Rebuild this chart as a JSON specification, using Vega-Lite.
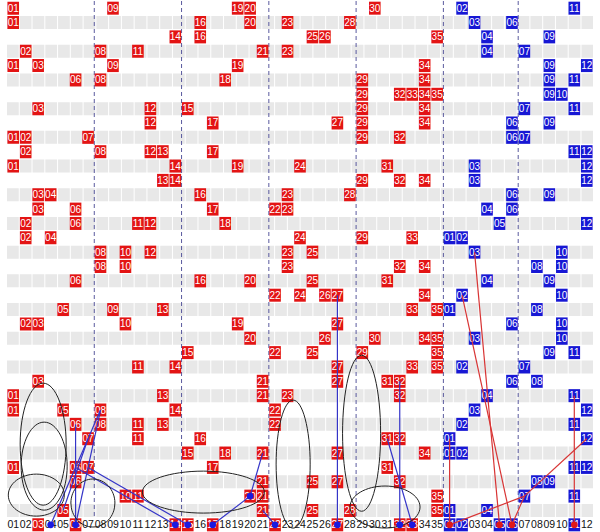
{
"$schema":"https://vega.github.io/schema/vega-lite/v6.json",
"width":600,"height":532,
"autosize":{"type":"fit","contains":"padding"},
"padding":0,
"background":"white",
"config":{"view":{"stroke":null}},
"datasets":{
"gray":[{"r":2},{"r":4},{"r":6},{"r":8},{"r":10},{"r":12},{"r":14},{"r":16},{"r":18},{"r":20},{"r":22},{"r":24},{"r":26},{"r":28},{"r":30},{"r":32},{"r":34},{"r":36}],
"seps":[{"b":7.5},{"b":14.5},{"b":21.5},{"b":28.5},{"b":35.5},{"b":41.5}],
"balls":[
{"r":1,"c":1,"t":"01","k":"R"},{"r":1,"c":9,"t":"09","k":"R"},{"r":1,"c":19,"t":"19","k":"R"},{"r":1,"c":20,"t":"20","k":"R"},{"r":1,"c":30,"t":"30","k":"R"},{"r":1,"c":37,"t":"02","k":"B"},{"r":1,"c":46,"t":"11","k":"B"},
{"r":2,"c":1,"t":"01","k":"R"},{"r":2,"c":16,"t":"16","k":"R"},{"r":2,"c":20,"t":"20","k":"R"},{"r":2,"c":23,"t":"23","k":"R"},{"r":2,"c":28,"t":"28","k":"R"},{"r":2,"c":38,"t":"03","k":"B"},{"r":2,"c":41,"t":"06","k":"B"},
{"r":3,"c":14,"t":"14","k":"R"},{"r":3,"c":16,"t":"16","k":"R"},{"r":3,"c":25,"t":"25","k":"R"},{"r":3,"c":26,"t":"26","k":"R"},{"r":3,"c":35,"t":"35","k":"R"},{"r":3,"c":39,"t":"04","k":"B"},{"r":3,"c":44,"t":"09","k":"B"},
{"r":4,"c":2,"t":"02","k":"R"},{"r":4,"c":8,"t":"08","k":"R"},{"r":4,"c":11,"t":"11","k":"R"},{"r":4,"c":21,"t":"21","k":"R"},{"r":4,"c":23,"t":"23","k":"R"},{"r":4,"c":39,"t":"04","k":"B"},{"r":4,"c":42,"t":"07","k":"B"},
{"r":5,"c":1,"t":"01","k":"R"},{"r":5,"c":3,"t":"03","k":"R"},{"r":5,"c":9,"t":"09","k":"R"},{"r":5,"c":19,"t":"19","k":"R"},{"r":5,"c":34,"t":"34","k":"R"},{"r":5,"c":44,"t":"09","k":"B"},{"r":5,"c":47,"t":"12","k":"B"},
{"r":6,"c":6,"t":"06","k":"R"},{"r":6,"c":8,"t":"08","k":"R"},{"r":6,"c":18,"t":"18","k":"R"},{"r":6,"c":29,"t":"29","k":"R"},{"r":6,"c":34,"t":"34","k":"R"},{"r":6,"c":44,"t":"09","k":"B"},{"r":6,"c":46,"t":"11","k":"B"},
{"r":7,"c":29,"t":"29","k":"R"},{"r":7,"c":32,"t":"32","k":"R"},{"r":7,"c":33,"t":"33","k":"R"},{"r":7,"c":34,"t":"34","k":"R"},{"r":7,"c":35,"t":"35","k":"R"},{"r":7,"c":44,"t":"09","k":"B"},{"r":7,"c":45,"t":"10","k":"B"},
{"r":8,"c":3,"t":"03","k":"R"},{"r":8,"c":12,"t":"12","k":"R"},{"r":8,"c":15,"t":"15","k":"R"},{"r":8,"c":29,"t":"29","k":"R"},{"r":8,"c":34,"t":"34","k":"R"},{"r":8,"c":42,"t":"07","k":"B"},{"r":8,"c":46,"t":"11","k":"B"},
{"r":9,"c":12,"t":"12","k":"R"},{"r":9,"c":17,"t":"17","k":"R"},{"r":9,"c":27,"t":"27","k":"R"},{"r":9,"c":29,"t":"29","k":"R"},{"r":9,"c":34,"t":"34","k":"R"},{"r":9,"c":41,"t":"06","k":"B"},{"r":9,"c":44,"t":"09","k":"B"},
{"r":10,"c":1,"t":"01","k":"R"},{"r":10,"c":2,"t":"02","k":"R"},{"r":10,"c":7,"t":"07","k":"R"},{"r":10,"c":29,"t":"29","k":"R"},{"r":10,"c":32,"t":"32","k":"R"},{"r":10,"c":41,"t":"06","k":"B"},{"r":10,"c":42,"t":"07","k":"B"},
{"r":11,"c":2,"t":"02","k":"R"},{"r":11,"c":8,"t":"08","k":"R"},{"r":11,"c":12,"t":"12","k":"R"},{"r":11,"c":13,"t":"13","k":"R"},{"r":11,"c":17,"t":"17","k":"R"},{"r":11,"c":46,"t":"11","k":"B"},{"r":11,"c":47,"t":"12","k":"B"},
{"r":12,"c":1,"t":"01","k":"R"},{"r":12,"c":14,"t":"14","k":"R"},{"r":12,"c":19,"t":"19","k":"R"},{"r":12,"c":24,"t":"24","k":"R"},{"r":12,"c":31,"t":"31","k":"R"},{"r":12,"c":38,"t":"03","k":"B"},{"r":12,"c":47,"t":"12","k":"B"},
{"r":13,"c":13,"t":"13","k":"R"},{"r":13,"c":14,"t":"14","k":"R"},{"r":13,"c":29,"t":"29","k":"R"},{"r":13,"c":32,"t":"32","k":"R"},{"r":13,"c":34,"t":"34","k":"R"},{"r":13,"c":38,"t":"03","k":"B"},{"r":13,"c":47,"t":"12","k":"B"},
{"r":14,"c":3,"t":"03","k":"R"},{"r":14,"c":4,"t":"04","k":"R"},{"r":14,"c":16,"t":"16","k":"R"},{"r":14,"c":23,"t":"23","k":"R"},{"r":14,"c":28,"t":"28","k":"R"},{"r":14,"c":41,"t":"06","k":"B"},{"r":14,"c":44,"t":"09","k":"B"},
{"r":15,"c":3,"t":"03","k":"R"},{"r":15,"c":6,"t":"06","k":"R"},{"r":15,"c":17,"t":"17","k":"R"},{"r":15,"c":22,"t":"22","k":"R"},{"r":15,"c":23,"t":"23","k":"R"},{"r":15,"c":39,"t":"04","k":"B"},{"r":15,"c":41,"t":"06","k":"B"},
{"r":16,"c":2,"t":"02","k":"R"},{"r":16,"c":6,"t":"06","k":"R"},{"r":16,"c":11,"t":"11","k":"R"},{"r":16,"c":12,"t":"12","k":"R"},{"r":16,"c":18,"t":"18","k":"R"},{"r":16,"c":40,"t":"05","k":"B"},{"r":16,"c":47,"t":"12","k":"B"},
{"r":17,"c":2,"t":"02","k":"R"},{"r":17,"c":4,"t":"04","k":"R"},{"r":17,"c":24,"t":"24","k":"R"},{"r":17,"c":29,"t":"29","k":"R"},{"r":17,"c":33,"t":"33","k":"R"},{"r":17,"c":36,"t":"01","k":"B"},{"r":17,"c":37,"t":"02","k":"B"},
{"r":18,"c":8,"t":"08","k":"R"},{"r":18,"c":10,"t":"10","k":"R"},{"r":18,"c":12,"t":"12","k":"R"},{"r":18,"c":23,"t":"23","k":"R"},{"r":18,"c":25,"t":"25","k":"R"},{"r":18,"c":38,"t":"03","k":"B"},{"r":18,"c":45,"t":"10","k":"B"},
{"r":19,"c":8,"t":"08","k":"R"},{"r":19,"c":10,"t":"10","k":"R"},{"r":19,"c":23,"t":"23","k":"R"},{"r":19,"c":32,"t":"32","k":"R"},{"r":19,"c":34,"t":"34","k":"R"},{"r":19,"c":43,"t":"08","k":"B"},{"r":19,"c":45,"t":"10","k":"B"},
{"r":20,"c":6,"t":"06","k":"R"},{"r":20,"c":16,"t":"16","k":"R"},{"r":20,"c":20,"t":"20","k":"R"},{"r":20,"c":25,"t":"25","k":"R"},{"r":20,"c":31,"t":"31","k":"R"},{"r":20,"c":39,"t":"04","k":"B"},{"r":20,"c":44,"t":"09","k":"B"},
{"r":21,"c":22,"t":"22","k":"R"},{"r":21,"c":24,"t":"24","k":"R"},{"r":21,"c":26,"t":"26","k":"R"},{"r":21,"c":27,"t":"27","k":"R"},{"r":21,"c":34,"t":"34","k":"R"},{"r":21,"c":37,"t":"02","k":"B"},{"r":21,"c":45,"t":"10","k":"B"},
{"r":22,"c":5,"t":"05","k":"R"},{"r":22,"c":9,"t":"09","k":"R"},{"r":22,"c":13,"t":"13","k":"R"},{"r":22,"c":33,"t":"33","k":"R"},{"r":22,"c":35,"t":"35","k":"R"},{"r":22,"c":36,"t":"01","k":"B"},{"r":22,"c":43,"t":"08","k":"B"},
{"r":23,"c":2,"t":"02","k":"R"},{"r":23,"c":3,"t":"03","k":"R"},{"r":23,"c":10,"t":"10","k":"R"},{"r":23,"c":19,"t":"19","k":"R"},{"r":23,"c":27,"t":"27","k":"R"},{"r":23,"c":41,"t":"06","k":"B"},{"r":23,"c":45,"t":"10","k":"B"},
{"r":24,"c":20,"t":"20","k":"R"},{"r":24,"c":26,"t":"26","k":"R"},{"r":24,"c":30,"t":"30","k":"R"},{"r":24,"c":34,"t":"34","k":"R"},{"r":24,"c":35,"t":"35","k":"R"},{"r":24,"c":38,"t":"03","k":"B"},{"r":24,"c":45,"t":"10","k":"B"},
{"r":25,"c":15,"t":"15","k":"R"},{"r":25,"c":22,"t":"22","k":"R"},{"r":25,"c":25,"t":"25","k":"R"},{"r":25,"c":29,"t":"29","k":"R"},{"r":25,"c":35,"t":"35","k":"R"},{"r":25,"c":44,"t":"09","k":"B"},{"r":25,"c":46,"t":"11","k":"B"},
{"r":26,"c":11,"t":"11","k":"R"},{"r":26,"c":14,"t":"14","k":"R"},{"r":26,"c":27,"t":"27","k":"R"},{"r":26,"c":33,"t":"33","k":"R"},{"r":26,"c":35,"t":"35","k":"R"},{"r":26,"c":37,"t":"02","k":"B"},{"r":26,"c":42,"t":"07","k":"B"},
{"r":27,"c":3,"t":"03","k":"R"},{"r":27,"c":21,"t":"21","k":"R"},{"r":27,"c":27,"t":"27","k":"R"},{"r":27,"c":31,"t":"31","k":"R"},{"r":27,"c":32,"t":"32","k":"R"},{"r":27,"c":41,"t":"06","k":"B"},{"r":27,"c":43,"t":"08","k":"B"},
{"r":28,"c":1,"t":"01","k":"R"},{"r":28,"c":13,"t":"13","k":"R"},{"r":28,"c":21,"t":"21","k":"R"},{"r":28,"c":23,"t":"23","k":"R"},{"r":28,"c":32,"t":"32","k":"R"},{"r":28,"c":39,"t":"04","k":"B"},{"r":28,"c":46,"t":"11","k":"B"},
{"r":29,"c":1,"t":"01","k":"R"},{"r":29,"c":5,"t":"05","k":"R"},{"r":29,"c":8,"t":"08","k":"R"},{"r":29,"c":14,"t":"14","k":"R"},{"r":29,"c":22,"t":"22","k":"R"},{"r":29,"c":38,"t":"03","k":"B"},{"r":29,"c":47,"t":"12","k":"B"},
{"r":30,"c":6,"t":"06","k":"R"},{"r":30,"c":8,"t":"08","k":"R"},{"r":30,"c":11,"t":"11","k":"R"},{"r":30,"c":13,"t":"13","k":"R"},{"r":30,"c":22,"t":"22","k":"R"},{"r":30,"c":37,"t":"02","k":"B"},{"r":30,"c":46,"t":"11","k":"B"},
{"r":31,"c":7,"t":"07","k":"R"},{"r":31,"c":11,"t":"11","k":"R"},{"r":31,"c":16,"t":"16","k":"R"},{"r":31,"c":31,"t":"31","k":"R"},{"r":31,"c":32,"t":"32","k":"R"},{"r":31,"c":36,"t":"01","k":"B"},{"r":31,"c":47,"t":"12","k":"B"},
{"r":32,"c":15,"t":"15","k":"R"},{"r":32,"c":18,"t":"18","k":"R"},{"r":32,"c":21,"t":"21","k":"R"},{"r":32,"c":27,"t":"27","k":"R"},{"r":32,"c":34,"t":"34","k":"R"},{"r":32,"c":36,"t":"01","k":"B"},{"r":32,"c":37,"t":"02","k":"B"},
{"r":33,"c":1,"t":"01","k":"R"},{"r":33,"c":6,"t":"06","k":"R"},{"r":33,"c":7,"t":"07","k":"R"},{"r":33,"c":17,"t":"17","k":"R"},{"r":33,"c":31,"t":"31","k":"R"},{"r":33,"c":46,"t":"11","k":"B"},{"r":33,"c":47,"t":"12","k":"B"},
{"r":34,"c":6,"t":"06","k":"R"},{"r":34,"c":21,"t":"21","k":"R"},{"r":34,"c":25,"t":"25","k":"R"},{"r":34,"c":27,"t":"27","k":"R"},{"r":34,"c":32,"t":"32","k":"R"},{"r":34,"c":43,"t":"08","k":"B"},{"r":34,"c":44,"t":"09","k":"B"},
{"r":35,"c":10,"t":"10","k":"R"},{"r":35,"c":11,"t":"11","k":"R"},{"r":35,"c":20,"t":"20","k":"R"},{"r":35,"c":21,"t":"21","k":"R"},{"r":35,"c":35,"t":"35","k":"R"},{"r":35,"c":42,"t":"07","k":"B"},{"r":35,"c":46,"t":"11","k":"B"},
{"r":36,"c":5,"t":"05","k":"R"},{"r":36,"c":21,"t":"21","k":"R"},{"r":36,"c":25,"t":"25","k":"R"},{"r":36,"c":28,"t":"28","k":"R"},{"r":36,"c":35,"t":"35","k":"R"},{"r":36,"c":36,"t":"01","k":"B"},{"r":36,"c":39,"t":"04","k":"B"}
],
"labels":[
{"r":37,"c":1,"t":"01","k":"N"},{"r":37,"c":2,"t":"02","k":"N"},{"r":37,"c":3,"t":"03","k":"R"},{"r":37,"c":4,"t":"04","k":"N"},{"r":37,"c":5,"t":"05","k":"N"},{"r":37,"c":6,"t":"06","k":"R"},{"r":37,"c":7,"t":"07","k":"N"},{"r":37,"c":8,"t":"08","k":"N"},{"r":37,"c":9,"t":"09","k":"N"},{"r":37,"c":10,"t":"10","k":"N"},{"r":37,"c":11,"t":"11","k":"N"},{"r":37,"c":12,"t":"12","k":"N"},{"r":37,"c":13,"t":"13","k":"N"},{"r":37,"c":14,"t":"14","k":"R"},{"r":37,"c":15,"t":"15","k":"R"},{"r":37,"c":16,"t":"16","k":"N"},{"r":37,"c":17,"t":"17","k":"R"},{"r":37,"c":18,"t":"18","k":"N"},{"r":37,"c":19,"t":"19","k":"N"},{"r":37,"c":20,"t":"20","k":"N"},{"r":37,"c":21,"t":"21","k":"N"},{"r":37,"c":22,"t":"22","k":"R"},{"r":37,"c":23,"t":"23","k":"N"},{"r":37,"c":24,"t":"24","k":"N"},{"r":37,"c":25,"t":"25","k":"N"},{"r":37,"c":26,"t":"26","k":"N"},{"r":37,"c":27,"t":"27","k":"R"},{"r":37,"c":28,"t":"28","k":"N"},{"r":37,"c":29,"t":"29","k":"N"},{"r":37,"c":30,"t":"30","k":"N"},{"r":37,"c":31,"t":"31","k":"N"},{"r":37,"c":32,"t":"32","k":"R"},{"r":37,"c":33,"t":"33","k":"R"},{"r":37,"c":34,"t":"34","k":"N"},{"r":37,"c":35,"t":"35","k":"N"},
{"r":37,"c":36,"t":"01","k":"B"},{"r":37,"c":37,"t":"02","k":"B"},{"r":37,"c":38,"t":"03","k":"N"},{"r":37,"c":39,"t":"04","k":"N"},{"r":37,"c":40,"t":"05","k":"B"},{"r":37,"c":41,"t":"06","k":"B"},{"r":37,"c":42,"t":"07","k":"N"},{"r":37,"c":43,"t":"08","k":"N"},{"r":37,"c":44,"t":"09","k":"N"},{"r":37,"c":45,"t":"10","k":"N"},{"r":37,"c":46,"t":"11","k":"B"},{"r":37,"c":47,"t":"12","k":"N"}
],
"lines":[
{"c1":27,"r1":21,"c2":27,"r2":37,"k":"B"},
{"c1":8,"r1":29,"c2":4,"r2":37,"k":"B"},
{"c1":8,"r1":29,"c2":6,"r2":37,"k":"B"},
{"c1":6,"r1":30,"c2":6,"r2":37,"k":"B"},
{"c1":6,"r1":33,"c2":14,"r2":37,"k":"B"},
{"c1":7,"r1":33,"c2":15,"r2":37,"k":"B"},
{"c1":7,"r1":31,"c2":5,"r2":36,"k":"B"},
{"c1":21,"r1":32,"c2":20,"r2":35,"k":"B"},
{"c1":20,"r1":35,"c2":17,"r2":37,"k":"B"},
{"c1":21,"r1":36,"c2":22,"r2":37,"k":"B"},
{"c1":31,"r1":31,"c2":33,"r2":37,"k":"B"},
{"c1":32,"r1":27,"c2":32,"r2":37,"k":"B"},
{"c1":38,"r1":18,"c2":40,"r2":37,"k":"R"},
{"c1":37,"r1":21,"c2":41,"r2":37,"k":"R"},
{"c1":36,"r1":31,"c2":36,"r2":37,"k":"R"},
{"c1":46,"r1":28,"c2":46,"r2":37,"k":"R"},
{"c1":47,"r1":31,"c2":42,"r2":35,"k":"R"},
{"c1":42,"r1":35,"c2":36,"r2":37,"k":"R"},
{"c1":41,"r1":37,"c2":42,"r2":35,"k":"R"}
],
"dots":[
{"c":4,"r":37,"k":"B"},{"c":6,"r":37,"k":"B"},{"c":14,"r":37,"k":"B"},{"c":15,"r":37,"k":"B"},{"c":17,"r":37,"k":"B"},{"c":20,"r":35,"k":"B"},{"c":22,"r":37,"k":"B"},{"c":27,"r":37,"k":"B"},{"c":32,"r":37,"k":"B"},{"c":33,"r":37,"k":"B"},
{"c":36,"r":37,"k":"R"},{"c":40,"r":37,"k":"R"},{"c":41,"r":37,"k":"R"},{"c":46,"r":37,"k":"R"}
]
},
"layer":[
{"data":{"name":"gray"},
 "mark":{"type":"rule","strokeWidth":13,"color":"#e8e8e8","strokeDash":[11.766,1],"strokeCap":"butt"},
 "encoding":{
  "x":{"datum":0.5,"type":"quantitative","scale":{"domain":[0.5,47.5],"nice":false,"zero":false},"axis":null},
  "x2":{"datum":47.5},
  "y":{"field":"r","type":"quantitative","scale":{"domain":[0.5,37.5],"nice":false,"zero":false,"reverse":true},"axis":null}}},
{"data":{"name":"seps"},
 "mark":{"type":"rule","strokeWidth":1,"color":"#5a5a9e","strokeDash":[4,3]},
 "encoding":{
  "x":{"field":"b","type":"quantitative","scale":{"domain":[0.5,47.5],"nice":false,"zero":false},"axis":null},
  "y":{"datum":0.5,"type":"quantitative","scale":{"domain":[0.5,37.5],"nice":false,"zero":false,"reverse":true},"axis":null},
  "y2":{"datum":36.5}}},
{"data":{"name":"balls"},
 "mark":{"type":"tick","orient":"horizontal","size":11.6,"thickness":13,"opacity":1},
 "encoding":{
  "x":{"field":"c","type":"quantitative","scale":{"domain":[0.5,47.5],"nice":false,"zero":false},"axis":null},
  "y":{"field":"r","type":"quantitative","scale":{"domain":[0.5,37.5],"nice":false,"zero":false,"reverse":true},"axis":null},
  "color":{"field":"k","type":"nominal","scale":{"domain":["R","B","N"],"range":["#e31414","#1717d4","#ffffff"]},"legend":null}}},
{"data":{"name":"balls"},
 "mark":{"type":"text","color":"white","font":"Liberation Sans","fontSize":10,"baseline":"middle","align":"center","dy":0.5},
 "encoding":{
  "x":{"field":"c","type":"quantitative","scale":{"domain":[0.5,47.5],"nice":false,"zero":false},"axis":null},
  "y":{"field":"r","type":"quantitative","scale":{"domain":[0.5,37.5],"nice":false,"zero":false,"reverse":true},"axis":null},
  "text":{"field":"t"}}},
{"data":{"name":"labels"},
 "transform":[{"filter":"datum.k !== 'N'"}],
 "mark":{"type":"tick","orient":"horizontal","size":11.6,"thickness":13,"opacity":1},
 "encoding":{
  "x":{"field":"c","type":"quantitative","scale":{"domain":[0.5,47.5],"nice":false,"zero":false},"axis":null},
  "y":{"field":"r","type":"quantitative","scale":{"domain":[0.5,37.5],"nice":false,"zero":false,"reverse":true},"axis":null},
  "color":{"field":"k","type":"nominal","scale":{"domain":["R","B","N"],"range":["#e31414","#1717d4","#ffffff"]},"legend":null}}},
{"data":{"name":"labels"},
 "mark":{"type":"text","font":"Liberation Sans","fontSize":10.5,"baseline":"middle","align":"center","dy":0.5},
 "encoding":{
  "x":{"field":"c","type":"quantitative","scale":{"domain":[0.5,47.5],"nice":false,"zero":false},"axis":null},
  "y":{"field":"r","type":"quantitative","scale":{"domain":[0.5,37.5],"nice":false,"zero":false,"reverse":true},"axis":null},
  "text":{"field":"t"},
  "color":{"condition":{"test":"datum.k === 'N'","value":"#111111"},"value":"#ffffff"}}},
{"data":{"name":"lines"},
 "mark":{"type":"rule","strokeWidth":1.2},
 "encoding":{
  "x":{"field":"c1","type":"quantitative","scale":{"domain":[0.5,47.5],"nice":false,"zero":false},"axis":null},
  "y":{"field":"r1","type":"quantitative","scale":{"domain":[0.5,37.5],"nice":false,"zero":false,"reverse":true},"axis":null},
  "x2":{"field":"c2"},"y2":{"field":"r2"},
  "color":{"condition":{"test":"datum.k === 'R'","value":"#d83434"},"value":"#3434c8"}}},
{"data":{"values":[{"c":3.4,"r":31.38}]},
 "mark":{"type":"point","filled":false,"stroke":"#222222","strokeWidth":1,"opacity":1,"size":14884,"shape":"M0.377,0C0.377,0.552,0.208,1,0,1C-0.208,1,-0.377,0.552,-0.377,0C-0.377,-0.552,-0.208,-1,0,-1C0.208,-1,0.377,-0.552,0.377,0Z"},
 "encoding":{"x":{"field":"c","type":"quantitative","scale":{"domain":[0.5,47.5],"nice":false,"zero":false},"axis":null},"y":{"field":"r","type":"quantitative","scale":{"domain":[0.5,37.5],"nice":false,"zero":false,"reverse":true},"axis":null}}},
{"data":{"values":[{"c":3.48,"r":32.91}]},
 "mark":{"type":"point","filled":false,"stroke":"#222222","strokeWidth":1,"opacity":1,"size":7744,"shape":"M0.523,0C0.523,0.552,0.289,1,0,1C-0.289,1,-0.523,0.552,-0.523,0C-0.523,-0.552,-0.289,-1,0,-1C0.289,-1,0.523,-0.552,0.523,0Z"},
 "encoding":{"x":{"field":"c","type":"quantitative","scale":{"domain":[0.5,47.5],"nice":false,"zero":false},"axis":null},"y":{"field":"r","type":"quantitative","scale":{"domain":[0.5,37.5],"nice":false,"zero":false,"reverse":true},"axis":null}}},
{"data":{"values":[{"c":2.85,"r":34.93}]},
 "mark":{"type":"point","filled":false,"stroke":"#222222","strokeWidth":1,"opacity":1,"size":3136,"shape":"M1,0C1,0.414,0.552,0.75,0,0.75C-0.552,0.75,-1,0.414,-1,0C-1,-0.414,-0.552,-0.75,0,-0.75C0.552,-0.75,1,-0.414,1,0Z"},
 "encoding":{"x":{"field":"c","type":"quantitative","scale":{"domain":[0.5,47.5],"nice":false,"zero":false},"axis":null},"y":{"field":"r","type":"quantitative","scale":{"domain":[0.5,37.5],"nice":false,"zero":false,"reverse":true},"axis":null}}},
{"data":{"values":[{"c":7.39,"r":35.48}]},
 "mark":{"type":"point","filled":false,"stroke":"#222222","strokeWidth":1,"opacity":1,"size":2304,"shape":"M0.917,0C0.917,0.552,0.506,1,0,1C-0.506,1,-0.917,0.552,-0.917,0C-0.917,-0.552,-0.506,-1,0,-1C0.506,-1,0.917,-0.552,0.917,0Z"},
 "encoding":{"x":{"field":"c","type":"quantitative","scale":{"domain":[0.5,47.5],"nice":false,"zero":false},"axis":null},"y":{"field":"r","type":"quantitative","scale":{"domain":[0.5,37.5],"nice":false,"zero":false,"reverse":true},"axis":null}}},
{"data":{"values":[{"c":16.25,"r":34.72}]},
 "mark":{"type":"point","filled":false,"stroke":"#222222","strokeWidth":1,"opacity":1,"size":14884,"shape":"M1,0C1,0.19,0.552,0.344,0,0.344C-0.552,0.344,-1,0.19,-1,0C-1,-0.19,-0.552,-0.344,0,-0.344C0.552,-0.344,1,-0.19,1,0Z"},
 "encoding":{"x":{"field":"c","type":"quantitative","scale":{"domain":[0.5,47.5],"nice":false,"zero":false},"axis":null},"y":{"field":"r","type":"quantitative","scale":{"domain":[0.5,37.5],"nice":false,"zero":false,"reverse":true},"axis":null}}},
{"data":{"values":[{"c":23.45,"r":32.77}]},
 "mark":{"type":"point","filled":false,"stroke":"#222222","strokeWidth":1,"opacity":1,"size":16384,"shape":"M0.266,0C0.266,0.552,0.147,1,0,1C-0.147,1,-0.266,0.552,-0.266,0C-0.266,-0.552,-0.147,-1,0,-1C0.147,-1,0.266,-0.552,0.266,0Z"},
 "encoding":{"x":{"field":"c","type":"quantitative","scale":{"domain":[0.5,47.5],"nice":false,"zero":false},"axis":null},"y":{"field":"r","type":"quantitative","scale":{"domain":[0.5,37.5],"nice":false,"zero":false,"reverse":true},"axis":null}}},
{"data":{"values":[{"c":28.94,"r":30.62}]},
 "mark":{"type":"point","filled":false,"stroke":"#222222","strokeWidth":1,"opacity":1,"size":24336,"shape":"M0.244,0C0.244,0.552,0.135,1,0,1C-0.135,1,-0.244,0.552,-0.244,0C-0.244,-0.552,-0.135,-1,0,-1C0.135,-1,0.244,-0.552,0.244,0Z"},
 "encoding":{"x":{"field":"c","type":"quantitative","scale":{"domain":[0.5,47.5],"nice":false,"zero":false},"axis":null},"y":{"field":"r","type":"quantitative","scale":{"domain":[0.5,37.5],"nice":false,"zero":false,"reverse":true},"axis":null}}},
{"data":{"values":[{"c":30.82,"r":35.76}]},
 "mark":{"type":"point","filled":false,"stroke":"#222222","strokeWidth":1,"opacity":1,"size":4900,"shape":"M1,0C1,0.331,0.552,0.6,0,0.6C-0.552,0.6,-1,0.331,-1,0C-1,-0.331,-0.552,-0.6,0,-0.6C0.552,-0.6,1,-0.331,1,0Z"},
 "encoding":{"x":{"field":"c","type":"quantitative","scale":{"domain":[0.5,47.5],"nice":false,"zero":false},"axis":null},"y":{"field":"r","type":"quantitative","scale":{"domain":[0.5,37.5],"nice":false,"zero":false,"reverse":true},"axis":null}}},
{"data":{"name":"dots"},
 "mark":{"type":"point","filled":true,"opacity":1,"size":45,"shape":"circle"},
 "encoding":{
  "x":{"field":"c","type":"quantitative","scale":{"domain":[0.5,47.5],"nice":false,"zero":false},"axis":null},
  "y":{"field":"r","type":"quantitative","scale":{"domain":[0.5,37.5],"nice":false,"zero":false,"reverse":true},"axis":null},
  "color":{"condition":{"test":"datum.k === 'R'","value":"#e01818"},"value":"#1a1ae0"}}}
]
}
